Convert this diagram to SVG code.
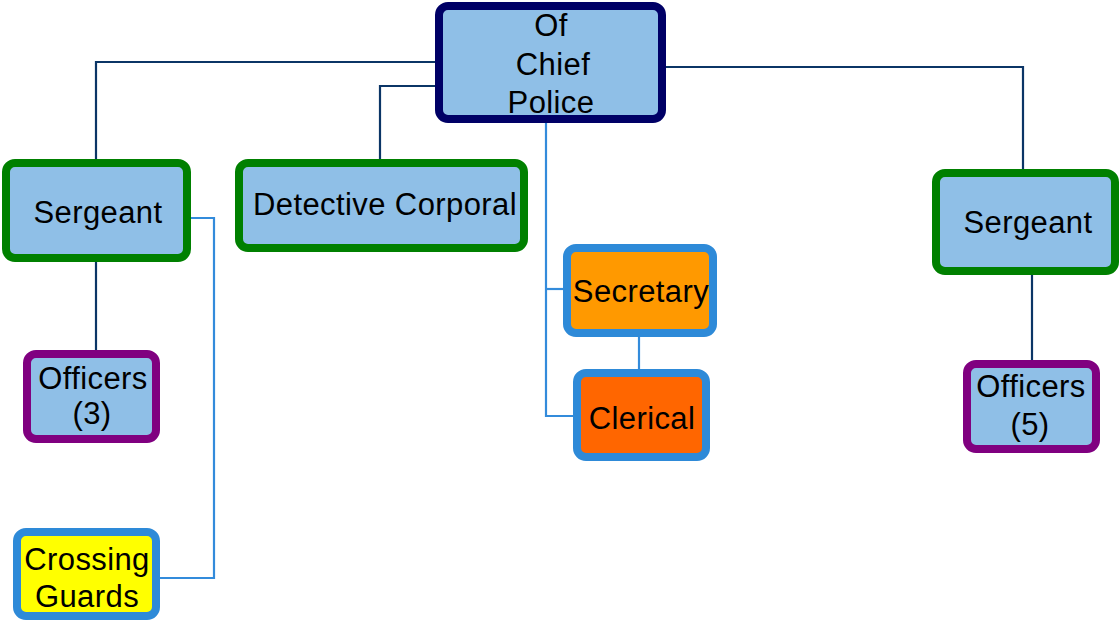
<svg xmlns="http://www.w3.org/2000/svg" width="1120" height="621" viewBox="0 0 1120 621">
<style>
.box{stroke-width:8;stroke-linejoin:round}
.blue{fill:#8FBFE7}
.t{font-family:"Liberation Sans",Arial,sans-serif;font-size:31px;letter-spacing:0.4px;fill:#000;text-anchor:middle}
.dk{fill:none;stroke:#0B3566;stroke-width:2.2}
.lt{fill:none;stroke:#338BDB;stroke-width:2.2}
</style>
<rect width="1120" height="621" fill="#fff"/>
<g id="connectors">
<polyline class="dk" points="436,62 96,62 96,160"/>
<polyline class="dk" points="436,86 380,86 380,160"/>
<polyline class="dk" points="665,67 1023,67 1023,170"/>
<line class="dk" x1="96" y1="261" x2="96" y2="351"/>
<line class="dk" x1="1032" y1="272" x2="1032" y2="361"/>
<polyline class="lt" points="546,122 546,416 574,416"/>
<line class="lt" x1="546" y1="289" x2="564" y2="289"/>
<line class="lt" x1="639" y1="336" x2="639" y2="370"/>
<polyline class="lt" points="189,218 214,218 214,578 159,578"/>
</g>
<g id="chief">
<rect class="box blue" x="439" y="6" width="223" height="113" rx="9" stroke="#000066"/>
<text class="t" x="551" y="36">Of</text>
<text class="t" x="553" y="75">Chief</text>
<text class="t" x="551" y="113">Police</text>
</g>
<g id="sergeant-left">
<rect class="box blue" x="6" y="163" width="181" height="95" rx="9" stroke="#008000"/>
<text class="t" x="98" y="223">Sergeant</text>
</g>
<g id="detective">
<rect class="box blue" x="239" y="163" width="285" height="85" rx="9" stroke="#008000"/>
<text class="t" x="385" y="215">Detective Corporal</text>
</g>
<g id="sergeant-right">
<rect class="box blue" x="936" y="173" width="179" height="98" rx="9" stroke="#008000"/>
<text class="t" x="1028" y="233">Sergeant</text>
</g>
<g id="officers3">
<rect class="box blue" x="27" y="354" width="129" height="85" rx="9" stroke="#800080"/>
<text class="t" x="93" y="389">Officers</text>
<text class="t" x="92" y="424">(3)</text>
</g>
<g id="officers5">
<rect class="box blue" x="967" y="364" width="129" height="85" rx="9" stroke="#800080"/>
<text class="t" x="1031" y="397">Officers</text>
<text class="t" x="1030" y="435">(5)</text>
</g>
<g id="crossing">
<rect class="box" x="17" y="532" width="139" height="84" rx="9" fill="#FFFF00" stroke="#2E8AD8"/>
<text class="t" x="87" y="570">Crossing</text>
<text class="t" x="87" y="607">Guards</text>
</g>
<g id="secretary">
<rect class="box" x="567" y="248" width="146" height="85" rx="9" fill="#FF9900" stroke="#2E8AD8"/>
<text class="t" x="641" y="302">Secretary</text>
</g>
<g id="clerical">
<rect class="box" x="577" y="373" width="129" height="84" rx="9" fill="#FF6600" stroke="#2E8AD8"/>
<text class="t" x="642" y="429">Clerical</text>
</g>
</svg>
